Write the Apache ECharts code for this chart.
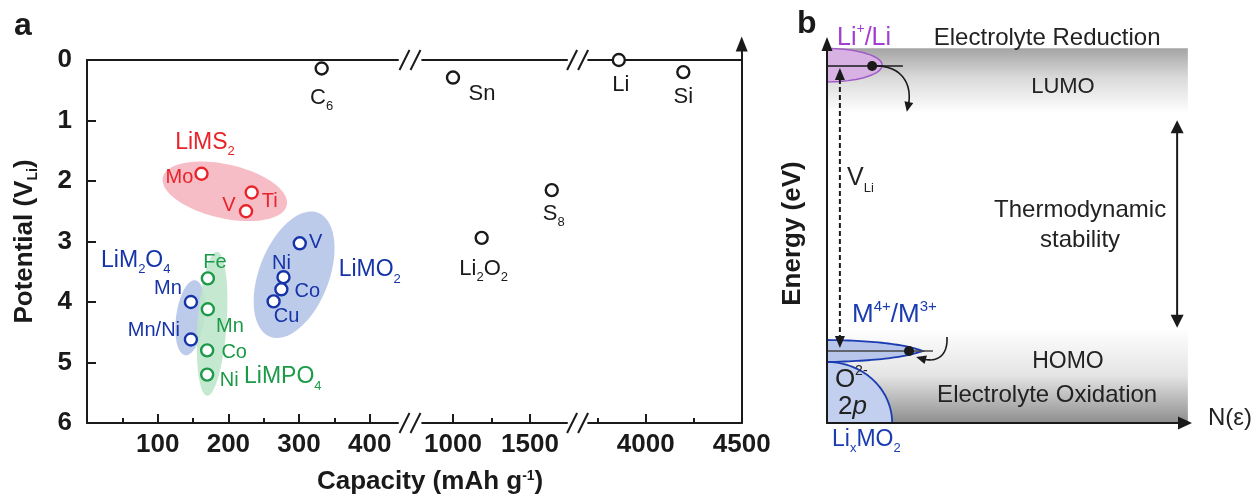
<!DOCTYPE html>
<html>
<head>
<meta charset="utf-8">
<script src="https://cdn.jsdelivr.net/npm/echarts@6.0.0/dist/echarts.min.js"></script>
<style>
html,body{margin:0;padding:0;background:#ffffff;}
#chart{width:1253px;height:496px;}
</style>
</head>
<body>
<div id="chart"></div>
<script>
// ================= DATA : panel a =================
const potentialTicks = [0, 1, 2, 3, 4, 5, 6];
const capacitySegments = [[0, 440], [800, 1740], [3700, 4500]];
const capacityLabels = [[100, 200, 300, 400], [1000, 1500], [4000, 4500]];
const capacityMajorTicks = [[100, 200, 300, 400], [1000, 1500], [4000]];
const capacityMinorTicks = [[50, 150, 250, 350], [1250], [3750, 4250]];

const anodeNames = ['C6', 'Sn', 'Li2O2', 'S8', 'Li', 'Si'];
const anodeCapacity = [332, 1000, 1186, 1641, 3860, 4196];
const anodePotential = [0.14, 0.29, 2.94, 2.15, 0.0, 0.2];

const lims2Names = ['Mo', 'Ti', 'V'];
const lims2Capacity = [162, 233, 225];
const lims2Potential = [1.88, 2.19, 2.5];

const limo2Names = ['V', 'Ni', 'Co', 'Cu'];
const limo2Capacity = [301, 278, 275, 264];
const limo2Potential = [3.03, 3.59, 3.79, 3.99];

const lim2o4Names = ['Mn', 'Mn/Ni'];
const lim2o4Capacity = [147, 147];
const lim2o4Potential = [4.0, 4.62];

const limpo4Names = ['Fe', 'Mn', 'Co', 'Ni'];
const limpo4Capacity = [171, 171, 170, 170];
const limpo4Potential = [3.61, 4.12, 4.8, 5.2];

const familyNames = ['LiMS2', 'LiM2O4', 'LiMO2', 'LiMPO4'];
const familyCapacity = [167, 69, 400, 277];
const familyPotential = [1.37, 3.31, 3.47, 5.24];

// family regions (ellipses): centre and two conjugate half-axes, in (capacity, potential) units
const regionCentre = [[195, 2.17], [146, 4.26], [293, 3.55], [177, 4.36]];
const regionHalfAxisA = [[87.7, 0.231], [7.07, -0.62], [33.9, -1.025], [7.07, -1.19]];
const regionHalfAxisB = [[-8.3, 0.435], [19.8, 0.031], [46.1, 0.208], [20.5, 0.0165]];

// ================= DATA : panel b (schematic, diagram units 0-100) =================
const bLumoBand = [[0, 98.9], [100.8, 81.8]];
const bHomoBand = [[0, 25], [100.8, 0]];
const bLiCouple = {y: 94.4, rx: 15.4, ry: 4.4, lineEnd: 21.2, dot: 12.6};
const bMCouple = {y: 19.0, lineEnd: 29.6, dot: 22.9, top: 21.9, bottom: 16.1, tip: 26.8, ctrl: 19};
const bO2pBand = {rx: 18.2, ry: 16.1};
const bCurveLi = [[12.6, 94.2], [20.9, 94.7], [24.6, 89.2], [22.3, 82.1]];
const bCurveM = [[33.5, 22.7], [33.8, 18.7], [31.6, 15.0], [24.9, 17.4]];
const bVLiArrow = {x: 3.6, top: 93.7, bottom: 19.8};
const bStabilityArrow = {x: 97.8, top: 79.9, bottom: 25.1};

// ================= STYLE / OPTION =================
const FONT = '"Liberation Sans", Arial, Helvetica, sans-serif';
const INK = '#1a1a1a';
const RED = '#e8232a', BLUE = '#1634a8', GREEN = '#1c9a48', PURPLE = '#a23fd0', BBLUE = '#1a3cb0';
const regionFill = ['#f5b9c3', '#b9c8ea', '#b9c8ea', '#bde6c9'];
const familyColor = [RED, BLUE, BLUE, GREEN];

function subRich(fs, color) {
  const s = Math.round(fs * 0.58);
  return {s: {fontSize: s, lineHeight: s + 2, verticalAlign: 'bottom', color: color, fill: color, fontFamily: FONT}};
}
const subFmt = n => n.replace(/(\d+)/g, '{s|$1}');

const grids = [
  {left: 87, top: 60, width: 311, height: 363},
  {left: 422.2, top: 60, width: 144.8, height: 363},
  {left: 588.1, top: 60, width: 153.6, height: 363},
  {left: 741.7, top: 44, width: 1, height: 379},
  {left: 827, top: 44, width: 358, height: 379}
].map(g => Object.assign({outerBoundsMode: 'none', containLabel: false}, g));

const axisLineStyle = {color: INK, width: 2};
const xAxes = [];
const yAxes = [];
for (let s = 0; s < 3; s++) {
  const [mn, mx] = capacitySegments[s];
  xAxes.push({
    gridIndex: s, type: 'value', min: mn, max: mx, position: 'bottom',
    axisLine: {show: true, onZero: false, lineStyle: axisLineStyle},
    axisTick: {show: true, inside: true, length: 9, customValues: capacityMajorTicks[s], lineStyle: {color: INK, width: 2}},
    axisLabel: {show: true, customValues: capacityLabels[s], margin: 9, fontSize: 26, fontWeight: 'bold', color: INK, fontFamily: FONT,
      formatter: v => String(v)},
    splitLine: {show: false}
  });
  xAxes.push({
    gridIndex: s, type: 'value', min: mn, max: mx, position: 'bottom',
    axisLine: {show: false, onZero: false},
    axisTick: {show: true, inside: true, length: 5, customValues: capacityMinorTicks[s], lineStyle: {color: INK, width: 2}},
    axisLabel: {show: false}, splitLine: {show: false}
  });
  xAxes.push({
    gridIndex: s, type: 'value', min: mn, max: mx, position: 'top',
    axisLine: {show: true, onZero: false, lineStyle: axisLineStyle},
    axisTick: {show: false}, axisLabel: {show: false}, splitLine: {show: false}
  });
  yAxes.push({
    gridIndex: s, type: 'value', inverse: true, min: 0, max: 6, interval: 1, position: 'left',
    show: s === 0,
    axisLine: {show: true, onZero: false, lineStyle: axisLineStyle},
    axisTick: {show: true, inside: true, length: 9, lineStyle: {color: INK, width: 2}},
    axisLabel: {show: true, margin: 15, fontSize: 26, fontWeight: 'bold', color: INK, fontFamily: FONT,
      customValues: potentialTicks, formatter: v => String(v)},
    splitLine: {show: false},
    name: s === 0 ? 'Potential (V{s|Li})' : '',
    nameLocation: 'middle', nameGap: 47, nameRotate: 90,
    nameTextStyle: {fontSize: 26, fontWeight: 'bold', color: INK, fontFamily: FONT, lineHeight: 30,
      rich: {s: {fontSize: 14, lineHeight: 14, verticalAlign: 'bottom', fontWeight: 'bold', color: INK, fontFamily: FONT}}}
  });
}
// right frame line of panel a with arrow
xAxes.push({gridIndex: 3, type: 'value', min: 0, max: 1, show: false});
yAxes.push({
  gridIndex: 3, type: 'value', min: 0, max: 1, position: 'left',
  axisLine: {show: true, onZero: false, symbol: ['none', 'triangle'], symbolSize: [12, 15], lineStyle: axisLineStyle},
  axisTick: {show: false}, axisLabel: {show: false}, splitLine: {show: false}
});
// panel b axes
xAxes.push({
  gridIndex: 4, type: 'value', min: 0, max: 100, z: 10,
  axisLine: {show: true, onZero: false, symbol: ['none', 'triangle'], symbolSize: [13, 14], lineStyle: axisLineStyle},
  axisTick: {show: false}, axisLabel: {show: false}, splitLine: {show: false}
});
yAxes.push({
  gridIndex: 4, type: 'value', min: 0, max: 100, z: 10,
  axisLine: {show: true, onZero: false, symbol: ['none', 'triangle'], symbolSize: [11, 14], lineStyle: axisLineStyle},
  axisTick: {show: false}, axisLabel: {show: false}, splitLine: {show: false},
  name: 'Energy (eV)', nameLocation: 'middle', nameGap: 21, nameRotate: 90,
  nameTextStyle: {fontSize: 26, fontWeight: 'bold', color: INK, fontFamily: FONT}
});

function segOf(x) { for (let s = 0; s < 3; s++) { if (x <= capacitySegments[s][1]) return s; } return 2; }

function pointSeries(names, caps, pots, color, fs, offsets, seg) {
  const idx = names.map((n, i) => i).filter(i => seg == null || segOf(caps[i]) === seg);
  const sg = seg == null ? 0 : seg;
  return {
    type: 'scatter', xAxisIndex: sg * 3, yAxisIndex: sg, z: 5,
    symbol: 'circle', symbolSize: 12, silent: true,
    itemStyle: {color: '#ffffff', borderColor: color, borderWidth: 2.4, opacity: 1},
    label: {show: true, position: 'inside', align: 'center', verticalAlign: 'middle', color: color,
      fontSize: fs, fontFamily: FONT, lineHeight: fs + 8,
      formatter: p => subFmt(p.name), rich: subRich(fs, color)},
    emphasis: {disabled: true},
    data: idx.map(i => ({name: names[i], value: [caps[i], pots[i]], label: {offset: offsets[names[i]]}}))
  };
}

const anodeOffsets = {C6: [0, 29], Sn: [29, 16], Li2O2: [2, 31], S8: [2, 24], Li: [2, 25], Si: [0, 25]};
const limsOffsets = {Mo: [-22, 4], Ti: [18, 9], V: [-17, -6]};
const limoOffsets = {V: [16, -1], Ni: [-2, -14], Co: [26, 2], Cu: [13, 15]};
const lim2o4Offsets = {'Mn': [-23, -14], 'Mn/Ni': [-37, -9]};
const limpo4Offsets = {Fe: [7, -16], Mn: [22, 17], Co: [27, 2], Ni: [22, 6]};

function breakSeries(seg, dx) {
  const at = capacitySegments[seg][1];
  return {
    type: 'custom', xAxisIndex: seg * 3, yAxisIndex: seg, clip: false, silent: true, z: 7,
    data: [[at, 0], [at, 6]],
    renderItem: (params, api) => {
      const p = api.coord([api.value(0), api.value(1)]);
      const cx = p[0] + dx, cy = p[1];
      return {type: 'group', children: [-5.5, 5.5].map(o => ({
        type: 'line', shape: {x1: cx + o - 5, y1: cy + 10, x2: cx + o + 5, y2: cy - 10},
        style: {stroke: INK, lineWidth: 2}}))};
    }
  };
}

const regionSeries = {
  type: 'custom', xAxisIndex: 0, yAxisIndex: 0, z: 1, clip: false, silent: true,
  data: regionCentre,
  renderItem: (params, api) => {
    const i = params.dataIndex;
    const c = regionCentre[i], a = regionHalfAxisA[i], b = regionHalfAxisB[i];
    const pts = [];
    for (let k = 0; k < 90; k++) {
      const t = k / 90 * 2 * Math.PI;
      pts.push(api.coord([c[0] + a[0] * Math.cos(t) + b[0] * Math.sin(t), c[1] + a[1] * Math.cos(t) + b[1] * Math.sin(t)]));
    }
    return {type: 'polygon', shape: {points: pts}, style: {fill: regionFill[i], opacity: i === 3 ? 0.88 : 0.95}};
  }
};

const familyLabelSeries = {
  type: 'custom', xAxisIndex: 0, yAxisIndex: 0, z: 6, clip: false, silent: true,
  data: familyNames.map((n, i) => [familyCapacity[i], familyPotential[i]]),
  renderItem: (params, api) => {
    const i = params.dataIndex;
    const p = api.coord([api.value(0), api.value(1)]);
    const col = familyColor[i];
    return {type: 'text', x: p[0], y: p[1], style: {
      text: subFmt(familyNames[i]), fill: col, fontSize: 23, fontFamily: FONT, lineHeight: 31,
      align: 'center', verticalAlign: 'middle',
      rich: {s: {fontSize: 13, lineHeight: 15, verticalAlign: 'bottom', fill: col, fontFamily: FONT}}}};
  }
};

function bezierPts(P, ctrl, n) {
  const q = ctrl.map(c => P(c[0], c[1]));
  const out = [];
  for (let k = 0; k <= n; k++) {
    const t = k / n, u = 1 - t;
    if (q.length === 4) {
      out.push([u*u*u*q[0][0] + 3*u*u*t*q[1][0] + 3*u*t*t*q[2][0] + t*t*t*q[3][0],
                u*u*u*q[0][1] + 3*u*u*t*q[1][1] + 3*u*t*t*q[2][1] + t*t*t*q[3][1]]);
    } else {
      out.push([u*u*q[0][0] + 2*u*t*q[1][0] + t*t*q[2][0], u*u*q[0][1] + 2*u*t*q[1][1] + t*t*q[2][1]]);
    }
  }
  return out;
}
function arrowHead(tip, from, L, W, color) {
  let dx = tip[0] - from[0], dy = tip[1] - from[1];
  const len = Math.hypot(dx, dy) || 1; dx /= len; dy /= len;
  const bx = tip[0] - dx * L, by = tip[1] - dy * L;
  return {type: 'polygon', shape: {points: [tip, [bx - dy * W / 2, by + dx * W / 2], [bx + dy * W / 2, by - dx * W / 2]]},
    style: {fill: color}};
}

const schematicSeries = {
  type: 'custom', xAxisIndex: 10, yAxisIndex: 4, z: 3, clip: false, silent: true,
  data: [[0, 0]],
  renderItem: (params, api) => {
    const P = (x, y) => api.coord([x, y]);
    const kids = [];
    // energy bands
    const band = (b, stops) => {
      const a = P(b[0][0], b[0][1]), c = P(b[1][0], b[1][1]);
      return {type: 'rect', shape: {x: a[0], y: a[1], width: c[0] - a[0], height: c[1] - a[1]},
        style: {fill: new echarts.graphic.LinearGradient(0, 0, 0, 1, stops)}};
    };
    kids.push(band(bLumoBand, [{offset: 0, color: '#a4a4a4'}, {offset: 0.45, color: '#d9d9d9'}, {offset: 1, color: '#ffffff'}]));
    kids.push(band(bHomoBand, [{offset: 0, color: '#ffffff'}, {offset: 0.5, color: '#e4e4e4'}, {offset: 1, color: '#8e8e8e'}]));
    // O2- 2p band
    const arc = [];
    for (let k = 0; k <= 40; k++) { const t = k / 40 * Math.PI / 2; arc.push(P(bO2pBand.rx * Math.cos(t), bO2pBand.ry * Math.sin(t))); }
    kids.push({type: 'polygon', shape: {points: [P(0, 0)].concat(arc)}, style: {fill: '#c2cfee'}});
    kids.push({type: 'polyline', shape: {points: arc}, style: {stroke: BBLUE, lineWidth: 1.8, fill: null}});
    // M4+/M3+ band (lens)
    const m = bMCouple;
    const topEdge = bezierPts(P, [[0, m.top], [m.ctrl, m.top - 0.2], [m.tip, m.y]], 30);
    const botEdge = bezierPts(P, [[m.tip, m.y], [m.ctrl, m.bottom + 0.3], [0, m.bottom]], 30);
    kids.push({type: 'polygon', shape: {points: topEdge.concat(botEdge)}, style: {fill: '#b7c6ea'}});
    kids.push({type: 'polyline', shape: {points: topEdge.concat(botEdge)}, style: {stroke: BBLUE, lineWidth: 1.8, fill: null}});
    const ml0 = P(0, m.y), ml1 = P(m.lineEnd, m.y), md = P(m.dot, m.y);
    kids.push({type: 'line', shape: {x1: ml0[0], y1: ml0[1], x2: ml1[0], y2: ml1[1]}, style: {stroke: '#444', lineWidth: 1.6}});
    kids.push({type: 'circle', shape: {cx: md[0], cy: md[1], r: 5}, style: {fill: INK}});
    // Li+/Li band (half ellipse)
    const L = bLiCouple;
    const half = [];
    for (let k = 0; k <= 40; k++) { const t = -Math.PI / 2 + k / 40 * Math.PI; half.push(P(L.rx * Math.cos(t), L.y + L.ry * Math.sin(t))); }
    kids.push({type: 'polygon', shape: {points: half}, style: {fill: '#d9b2e4'}});
    kids.push({type: 'polyline', shape: {points: half}, style: {stroke: '#a05cc6', lineWidth: 1.5, fill: null}});
    const l0 = P(0, L.y - 0.2), l1 = P(L.lineEnd, L.y - 0.2), ld = P(L.dot, L.y - 0.2);
    kids.push({type: 'line', shape: {x1: l0[0], y1: l0[1], x2: l1[0], y2: l1[1]}, style: {stroke: INK, lineWidth: 1.6}});
    kids.push({type: 'circle', shape: {cx: ld[0], cy: ld[1], r: 5}, style: {fill: INK}});
    // curved arrows
    const c1 = bezierPts(P, bCurveLi, 30);
    kids.push({type: 'polyline', shape: {points: c1.slice(0, 28)}, style: {stroke: INK, lineWidth: 1.6, fill: null}});
    kids.push(arrowHead(c1[30], c1[26], 10, 9, INK));
    const c2 = bezierPts(P, bCurveM, 30);
    kids.push({type: 'polyline', shape: {points: c2.slice(0, 28)}, style: {stroke: INK, lineWidth: 1.6, fill: null}});
    kids.push(arrowHead(c2[30], c2[26], 10, 9, INK));
    // V_Li dashed double arrow
    const v0 = P(bVLiArrow.x, bVLiArrow.top), v1 = P(bVLiArrow.x, bVLiArrow.bottom);
    kids.push({type: 'line', shape: {x1: v0[0], y1: v0[1] + 11, x2: v1[0], y2: v1[1] - 11},
      style: {stroke: INK, lineWidth: 2, lineDash: [5, 3]}});
    kids.push(arrowHead(v0, [v0[0], v0[1] + 20], 12, 10, INK));
    kids.push(arrowHead(v1, [v1[0], v1[1] - 20], 12, 10, INK));
    // thermodynamic stability double arrow
    const s0 = P(bStabilityArrow.x, bStabilityArrow.top), s1 = P(bStabilityArrow.x, bStabilityArrow.bottom);
    kids.push({type: 'line', shape: {x1: s0[0], y1: s0[1] + 10, x2: s1[0], y2: s1[1] - 10}, style: {stroke: INK, lineWidth: 2}});
    kids.push(arrowHead(s0, [s0[0], s0[1] + 20], 13, 13, INK));
    kids.push(arrowHead(s1, [s1[0], s1[1] - 20], 13, 13, INK));
    // texts
    const T = (x, y, text, o) => { const p = P(x, y); return {type: 'text', x: p[0], y: p[1],
      style: Object.assign({text: text, fill: '#222', fontSize: 23, fontFamily: FONT, align: 'center', verticalAlign: 'middle'}, o)}; };
    const sup = (fs, col) => ({fontSize: fs, lineHeight: fs, verticalAlign: 'top', fill: col, fontFamily: FONT});
    const sub = (fs, col) => ({fontSize: fs, lineHeight: fs + 2, verticalAlign: 'bottom', fill: col, fontFamily: FONT});
    kids.push(T(2.8, 101.6, 'Li{p|+}/Li', {fill: PURPLE, fontSize: 25, lineHeight: 31, align: 'left', rich: {p: sup(14, PURPLE)}}));
    kids.push(T(61.5, 101.6, 'Electrolyte Reduction', {fontSize: 24}));
    kids.push(T(65.9, 88.7, 'LUMO', {fontSize: 22}));
    kids.push(T(5.6, 64.6, 'V{s|Li}', {fontSize: 25, lineHeight: 33, align: 'left', rich: {s: sub(13, '#222')}}));
    kids.push(T(70.7, 56.2, 'Thermodynamic', {fontSize: 24}));
    kids.push(T(70.7, 48.3, 'stability', {fontSize: 24}));
    kids.push(T(7, 28.5, 'M{p|4+}/M{p|3+}', {fill: BBLUE, fontSize: 26, lineHeight: 32, align: 'left', rich: {p: sup(15, BBLUE)}}));
    kids.push(T(67.3, 16.1, 'HOMO', {fontSize: 23}));
    kids.push(T(61.5, 7.4, 'Electrolyte Oxidation', {fontSize: 24}));
    kids.push(T(2.2, 11.3, 'O{p|2-}', {fontSize: 26, lineHeight: 32, align: 'left', rich: {p: sup(14, '#222')}}));
    kids.push(T(3.1, 4.2, '2{i|p}', {fontSize: 26, align: 'left', rich: {i: {fontSize: 26, fontStyle: 'italic', fill: '#222', fontFamily: FONT}}}));
    kids.push(T(1.4, -4.5, 'Li{s|x}MO{s|2}', {fill: BBLUE, fontSize: 23, lineHeight: 29, align: 'left', rich: {s: sub(13, BBLUE)}}));
    kids.push(T(106.4, 1.3, 'N(ε)', {fontSize: 24, align: 'left'}));
    return {type: 'group', children: kids};
  }
};

const series = [
  regionSeries,
  breakSeries(0, 12),
  breakSeries(1, 10.6),
  pointSeries(lims2Names, lims2Capacity, lims2Potential, RED, 20, limsOffsets, null),
  pointSeries(limo2Names, limo2Capacity, limo2Potential, BLUE, 20, limoOffsets, null),
  pointSeries(lim2o4Names, lim2o4Capacity, lim2o4Potential, BLUE, 20, lim2o4Offsets, null),
  pointSeries(limpo4Names, limpo4Capacity, limpo4Potential, GREEN, 20, limpo4Offsets, null),
  pointSeries(anodeNames, anodeCapacity, anodePotential, INK, 22, anodeOffsets, 0),
  pointSeries(anodeNames, anodeCapacity, anodePotential, INK, 22, anodeOffsets, 1),
  pointSeries(anodeNames, anodeCapacity, anodePotential, INK, 22, anodeOffsets, 2),
  familyLabelSeries,
  schematicSeries
];

const chart = echarts.init(document.getElementById('chart'), null, {renderer: 'canvas'});
chart.setOption({
  animation: false,
  backgroundColor: '#ffffff',
  textStyle: {fontFamily: FONT},
  title: [
    {text: 'a', left: 14, top: 10, padding: 0, textStyle: {fontSize: 32, fontWeight: 'bold', color: INK, fontFamily: FONT, lineHeight: 32}},
    {text: 'b', left: 797, top: 8, padding: 0, textStyle: {fontSize: 32, fontWeight: 'bold', color: INK, fontFamily: FONT, lineHeight: 32}},
    {text: 'Capacity (mAh g{p|-1})', left: 317, top: 469, padding: 0,
      textStyle: {fontSize: 26, fontWeight: 'bold', color: INK, fontFamily: FONT, lineHeight: 26,
        rich: {p: {fontSize: 14, lineHeight: 14, verticalAlign: 'top', fontWeight: 'bold', color: INK, fontFamily: FONT}}}}
  ],
  grid: grids,
  xAxis: xAxes,
  yAxis: yAxes,
  series: series
});
</script>
</body>
</html>
